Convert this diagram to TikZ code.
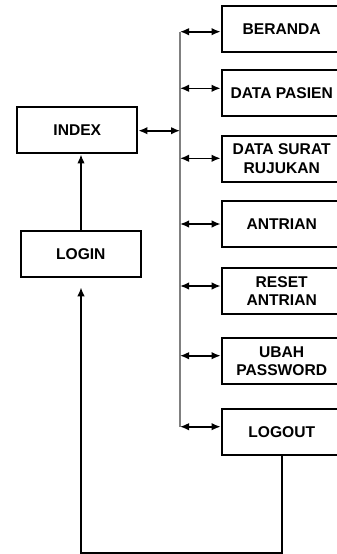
\documentclass[tikz,border=0pt]{standalone}
\usepackage{fontspec}
\setmainfont{Liberation Sans}
\usetikzlibrary{arrows.meta,calc}
\begin{document}
\begin{tikzpicture}[x=1pt,y=-1pt,
  menubox/.style={draw=black,line width=2.1pt,minimum width=120pt,minimum height=46pt,
    inner sep=0pt,align=center,font=\fontsize{15.6pt}{18.5pt}\selectfont\bfseries,fill=white},
  link/.style={line width=1.6pt,{Latex[length=9pt,width=7.5pt]}-{Latex[length=9pt,width=7.5pt]}},
  flow/.style={line width=1.8pt,-{Latex[length=9pt,width=7.5pt]}},
  spine/.style={draw=black!50,line width=1.1pt}]
\clip (0,0) rectangle (337,554);
\useasboundingbox (0,0) rectangle (337,554);

% left column
\node[menubox] (index) at (77.3,130.3) {INDEX};
\node[menubox] (login) at (80.8,254.3) {LOGIN};

% menu column
\node[menubox] (beranda) at (281.7,28.7) {BERANDA};
\node[menubox] (pasien)  at (281.7,93.3) {DATA PASIEN};
\node[menubox] (surat)   at (281.7,158.8) {DATA SURAT\\RUJUKAN};
\node[menubox] (antrian) at (281.7,224.2) {ANTRIAN};
\node[menubox] (reset)   at (281.7,290.8) {RESET\\ANTRIAN};
\node[menubox] (ubah)    at (281.7,361) {UBAH\\PASSWORD};
\node[menubox] (logout)  at (281.7,431.7) {LOGOUT};

% distribution line
\coordinate (top) at (180,31.7);
\coordinate (bot) at (180,426.7);
\draw[spine] (top) -- (bot);

% links from the spine to each menu entry
\foreach \n/\yy in {beranda/31.7,pasien/88.3,surat/158.3,antrian/224,reset/286,ubah/355.7,logout/426.7}{
  \coordinate (s-\n) at (180,\yy);
  \draw[link] (s-\n) -- (s-\n -| \n.west);
}

% index to spine
\coordinate (hub) at (180,130.7);
\draw[link] (hub -| index.east) -- (hub);

% login to index
\draw[flow] (login.north -| 81,0) -- (index.south -| 81,0);

% logout back to login
\coordinate (loopR) at (logout.south |- 0,552.7);
\coordinate (loopL) at (81,552.7);
\coordinate (loopEnd) at (81,287.3);
\draw[flow] (logout.south) -- (loopR) -- (loopL) -- (loopEnd);
\end{tikzpicture}
\end{document}
